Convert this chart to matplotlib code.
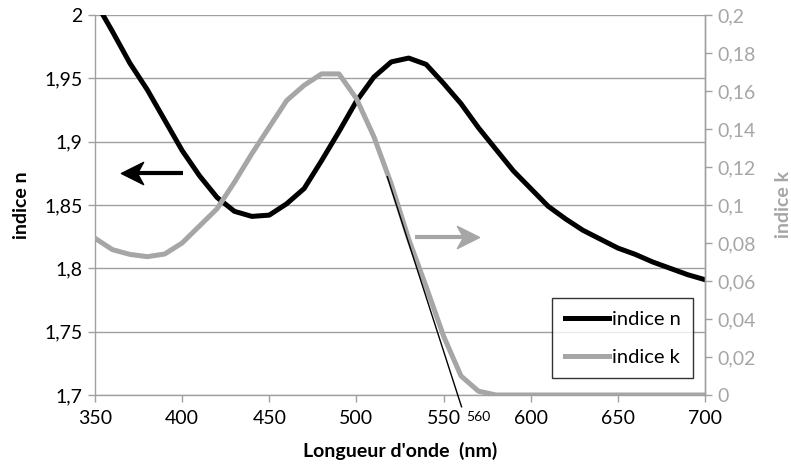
import matplotlib.pyplot as plt
from matplotlib.path import Path

plt.rcParams['font.family'] = ['Lato', 'DejaVu Sans']

# longueur d'onde (nm)
wl = [350, 360, 370, 380, 390, 400, 410, 420, 430, 440, 450, 460, 470, 480,
      490, 500, 510, 520, 530, 540, 550, 560, 570, 580, 590, 600, 610, 620,
      630, 640, 650, 660, 670, 680, 690, 700]

# indice n (axe gauche)
n_vals = [2.011, 1.987, 1.962, 1.941, 1.917, 1.893, 1.873, 1.856, 1.845, 1.841,
          1.842, 1.851, 1.863, 1.885, 1.908, 1.932, 1.951, 1.963, 1.966, 1.961,
          1.946, 1.930, 1.911, 1.894, 1.877, 1.863, 1.849, 1.839, 1.830, 1.823,
          1.816, 1.811, 1.805, 1.800, 1.795, 1.791]

# indice k (axe droit)
k_vals = [0.0825, 0.0765, 0.0740, 0.0728, 0.0742, 0.080, 0.089, 0.098, 0.112,
          0.127, 0.141, 0.155, 0.163, 0.169, 0.169, 0.156, 0.136, 0.111, 0.082,
          0.057, 0.031, 0.010, 0.002, 0.0, 0.0, 0.0, 0.0, 0.0, 0.0, 0.0, 0.0,
          0.0, 0.0, 0.0, 0.0, 0.0]

x_ticks = [350, 400, 450, 500, 550, 600, 650, 700]
n_ticks = [1.7, 1.75, 1.8, 1.85, 1.9, 1.95, 2.0]
n_labels = ['1,7', '1,75', '1,8', '1,85', '1,9', '1,95', '2']
k_ticks = [0, 0.02, 0.04, 0.06, 0.08, 0.1, 0.12, 0.14, 0.16, 0.18, 0.2]
k_labels = ['0', '0,02', '0,04', '0,06', '0,08', '0,1', '0,12', '0,14', '0,16', '0,18', '0,2']

# tangente tracee sur la chute de k
tan_wl = [517.7, 560.3]
tan_k = [0.1149, -0.0062]

grid_col = '#a0a0a0'
k_col = '#a6a6a6'

# pointe de fleche "stealth"
head_left = Path([(-1, 0), (1, 1), (0.45, 0), (1, -1), (-1, 0)],
                 [Path.MOVETO, Path.LINETO, Path.LINETO, Path.LINETO, Path.CLOSEPOLY])
head_right = Path([(1, 0), (-1, 1), (-0.45, 0), (-1, -1), (1, 0)],
                  [Path.MOVETO, Path.LINETO, Path.LINETO, Path.LINETO, Path.CLOSEPOLY])

fig = plt.figure(figsize=(7.91, 4.66), dpi=100)
ax = fig.add_axes([0.1201, 0.1524, 0.7712, 0.8154])
ax2 = ax.twinx()

line_n, = ax.plot(wl, n_vals, color='black', lw=3.6, label='indice n',
                  solid_joinstyle='round')
line_k, = ax2.plot(wl, k_vals, color=k_col, lw=3.6, label='indice k',
                   solid_joinstyle='round')
ax2.plot(tan_wl, tan_k, color='black', lw=1, clip_on=False)

ax.set_xlim(350, 700)
ax.set_ylim(1.7, 2.0)
ax2.set_ylim(0, 0.2)

ax.set_xticks(x_ticks)
ax.set_yticks(n_ticks)
ax.set_yticklabels(n_labels)
ax2.set_yticks(k_ticks)
ax2.set_yticklabels(k_labels)

ax.yaxis.grid(True, color=grid_col, lw=1)
ax.set_axisbelow(True)

for a in (ax, ax2):
    a.spines['top'].set_visible(False)
    for s in ('left', 'right', 'bottom'):
        a.spines[s].set_color(grid_col)
        a.spines[s].set_linewidth(1)
ax2.spines['left'].set_visible(False)
ax2.spines['bottom'].set_visible(False)

ax.tick_params(axis='both', colors=grid_col, labelcolor='black', length=5,
               width=1, labelsize=14, pad=4)
ax.tick_params(axis='x', pad=6)
ax2.tick_params(axis='y', colors=grid_col, labelcolor=k_col, length=5,
                width=1, labelsize=14, pad=4)

ax.set_xlabel("Longueur d'onde  (nm)", fontsize=14, fontweight='bold')
ax.set_ylabel('indice n', fontsize=14, fontweight='bold')
ax2.set_ylabel('indice k', fontsize=14, fontweight='bold', color=k_col)
ax.xaxis.set_label_coords(0.5, -0.147)
ax.yaxis.set_label_coords(-0.1197, 0.5)
ax2.yaxis.set_label_coords(1.128, 0.5)
for lab in (ax.xaxis.label, ax.yaxis.label, ax2.yaxis.label):
    lab.set_va('center')

# fleches indiquant l'axe de chaque courbe
ax.plot([400.7, 373.5], [1.875, 1.875], color='black', lw=3, solid_capstyle='butt')
ax.plot([371.3], [1.875], marker=head_left, markersize=16, color='black', lw=0)
ax2.plot([533.6, 561.8], [0.083, 0.083], color=k_col, lw=3, solid_capstyle='butt')
ax2.plot([563.9], [0.083], marker=head_right, markersize=16, color=k_col, lw=0)

ax2.text(569.7, -0.0116, '560', fontsize=10, ha='center', va='center')

leg = ax2.legend([line_n, line_k], ['indice n', 'indice k'], loc='lower right',
                 bbox_to_anchor=(0.98, 0.045), fontsize=14.5, frameon=True,
                 fancybox=False, edgecolor='black', handlelength=2.2,
                 handletextpad=0.15, labelspacing=1.05, borderpad=0.6,
                 borderaxespad=0)
leg.get_frame().set_linewidth(1)

fig.savefig('out.png', dpi=100)
